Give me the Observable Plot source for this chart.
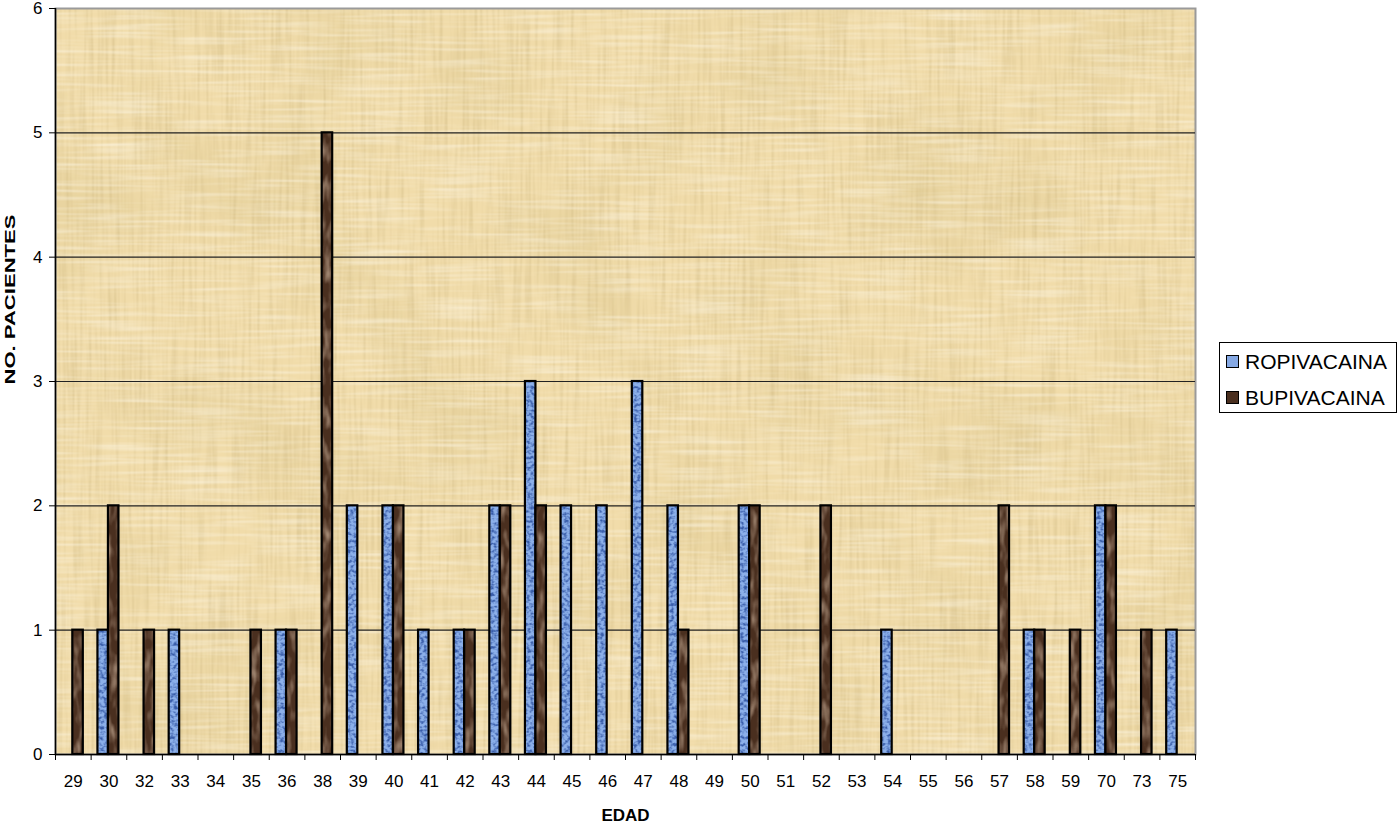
<!DOCTYPE html>
<html>
<head>
<meta charset="utf-8">
<script src="https://cdn.jsdelivr.net/npm/d3@7"></script>
<script src="https://cdn.jsdelivr.net/npm/@observablehq/plot@0.6"></script>
<style>
  html, body { margin: 0; padding: 0; background: #fff; }
  #wrap { position: relative; width: 1399px; height: 829px; font-family: "Liberation Sans", Arial, sans-serif; }
  #legend { position: absolute; left: 1219px; top: 342px; width: 178px; height: 71px; border: 1px solid #000; background: #fff; box-sizing: border-box; }
  .item { position: absolute; left: 6px; font-size: 21px; line-height: 21px; color: #000; display: flex; align-items: center; white-space: nowrap; }
  .sw { width: 11px; height: 11px; border: 1px solid #000; margin-right: 6px; }
</style>
</head>
<body>
<svg width="0" height="0" style="position:absolute">
  <defs>
    <filter id="papV" x="0" y="0" width="100%" height="100%">
      <feTurbulence type="fractalNoise" baseFrequency="0.35 0.012" numOctaves="2" seed="4"/>
      <feColorMatrix type="matrix" values="0 0 0 0 0.62  0 0 0 0 0.48  0 0 0 0 0.22  1.2 0 0 0 -0.53"/>
    </filter>
    <filter id="papH" x="0" y="0" width="100%" height="100%">
      <feTurbulence type="fractalNoise" baseFrequency="0.012 0.3" numOctaves="2" seed="11"/>
      <feColorMatrix type="matrix" values="0 0 0 0 1  0 0 0 0 0.97  0 0 0 0 0.88  1.1 0 0 0 -0.48"/>
    </filter>
    <filter id="papB" x="0" y="0" width="100%" height="100%">
      <feTurbulence type="fractalNoise" baseFrequency="0.008" numOctaves="3" seed="2"/>
      <feColorMatrix type="matrix" values="0 0 0 0 0.72  0 0 0 0 0.58  0 0 0 0 0.28  1.0 0 0 0 -0.45"/>
    </filter>
    <filter id="blueN" x="0" y="0" width="100%" height="100%" color-interpolation-filters="sRGB">
      <feTurbulence type="fractalNoise" baseFrequency="0.3" numOctaves="2" seed="5"/>
      <feColorMatrix type="matrix" values="0 0 0 0 0.22  0 0 0 0 0.36  0 0 0 0 0.66  3.2 0 0 0 -1.35"/>
    </filter>
    <filter id="brownN" x="0" y="0" width="100%" height="100%">
      <feTurbulence type="fractalNoise" baseFrequency="0.15 0.05" numOctaves="2" seed="9"/>
      <feColorMatrix type="matrix" values="0 0 0 0 0.5  0 0 0 0 0.36  0 0 0 0 0.26  1.8 0 0 0 -0.75"/>
    </filter>
    <pattern id="bluePat" patternUnits="userSpaceOnUse" width="1399" height="829">
      <rect width="1399" height="829" fill="#8cb0ea"/>
      <rect width="1399" height="829" filter="url(#blueN)"/>
    </pattern>
    <pattern id="brownPat" patternUnits="userSpaceOnUse" width="1399" height="829">
      <rect width="1399" height="829" fill="#4a2f1f"/>
      <rect width="1399" height="829" filter="url(#brownN)"/>
    </pattern>
    <pattern id="papPat" patternUnits="userSpaceOnUse" width="1399" height="829">
      <rect width="1399" height="829" fill="#f1dcaa"/>
      <rect width="1399" height="829" filter="url(#papB)"/>
      <rect width="1399" height="829" filter="url(#papV)"/>
      <rect width="1399" height="829" filter="url(#papH)"/>
    </pattern>
  </defs>
</svg>
<div id="wrap">
  <div id="chart"></div>
  <div id="legend">
    <div class="item" style="top:8px"><span class="sw" style="background:#86a9e4"></span>ROPIVACAINA</div>
    <div class="item" style="top:44px"><span class="sw" style="background:#4a2f1f"></span>BUPIVACAINA</div>
  </div>
</div>
<script>
const ages = ["29","30","32","33","34","35","36","38","39","40","41","42","43","44","45","46","47","48","49","50","51","52","53","54","55","56","57","58","59","70","73","75"];
const ropivacaina = [0,1,0,1,0,0,1,0,2,2,1,1,2,3,2,2,3,2,0,2,0,0,0,1,0,0,0,1,0,2,0,1];
const bupivacaina = [1,2,1,0,0,1,1,5,0,2,0,1,2,2,0,0,0,1,0,2,0,2,0,0,0,0,2,1,1,2,1,0];
const yTicks = [0,1,2,3,4,5,6];
const xTitle = "EDAD";
const yTitle = "NO. PACIENTES";

const rows = ages.map((a, i) => ({age: a, r: ropivacaina[i], b: bupivacaina[i]}));

const W = 1399, H = 829;
const mL = 55, mR = 204, mT = 8, mB = 75;
const bw = (W - mL - mR) / ages.length;
const barW = 10.5;
const inset = (bw - barW) / 2;

const plot = Plot.plot({
  width: W,
  height: H,
  marginLeft: mL,
  marginRight: mR,
  marginTop: mT,
  marginBottom: mB,
  style: {fontFamily: "'Liberation Sans', Arial, sans-serif", fontSize: "17px", color: "#000", background: "transparent"},
  x: {type: "band", domain: ages, padding: 0, round: false, label: null},
  y: {domain: [0, 6], label: null},
  marks: [
    Plot.frame({fill: "url(#papPat)", stroke: "#9a9a9a", strokeWidth: 2}),
    Plot.ruleY(yTicks.filter(d => d > 0 && d < 6), {stroke: "#222", strokeWidth: 1.2}),
    Plot.barY(rows.filter(d => d.r > 0), {x: "age", y: "r", fill: "url(#bluePat)", stroke: "#000", strokeWidth: 2.2, insetLeft: inset, insetRight: inset, dx: -barW / 2 - 0.5}),
    Plot.barY(rows.filter(d => d.b > 0), {x: "age", y: "b", fill: "url(#brownPat)", stroke: "#000", strokeWidth: 2.2, insetLeft: inset, insetRight: inset, dx: barW / 2 - 0.5}),
    Plot.ruleY([0], {stroke: "#000", strokeWidth: 1.5}),
    Plot.ruleX([ages[0]], {dx: -bw / 2, y1: 0, y2: 6, stroke: "#000", strokeWidth: 1.5}),
    Plot.axisY(yTicks, {tickSize: 6, tickPadding: 7, fontSize: 17, tickFormat: d => String(d), label: null}),
    Plot.axisX(ages, {tickSize: 6, tickFormat: () => "", dx: -bw / 2, label: null}),
    Plot.axisX([ages[ages.length - 1]], {tickSize: 6, tickFormat: () => "", dx: bw / 2, label: null}),
    Plot.axisX(ages, {tickSize: 0, tickPadding: 20, fontSize: 17, label: null}),
    Plot.text([yTitle], {text: d => d, frameAnchor: "left", dx: -45, dy: 3, rotate: -90, fontWeight: "bold", fontSize: 14, className: "ytitle"}),
    Plot.text([xTitle], {text: d => d, frameAnchor: "bottom", dy: 66, fontWeight: "bold", fontSize: 17})
  ]
});
document.getElementById("chart").appendChild(plot);
const yt = plot.querySelector(".ytitle text");
if (yt) { yt.setAttribute("textLength", "170"); yt.setAttribute("lengthAdjust", "spacingAndGlyphs"); }
</script>
</body>
</html>
